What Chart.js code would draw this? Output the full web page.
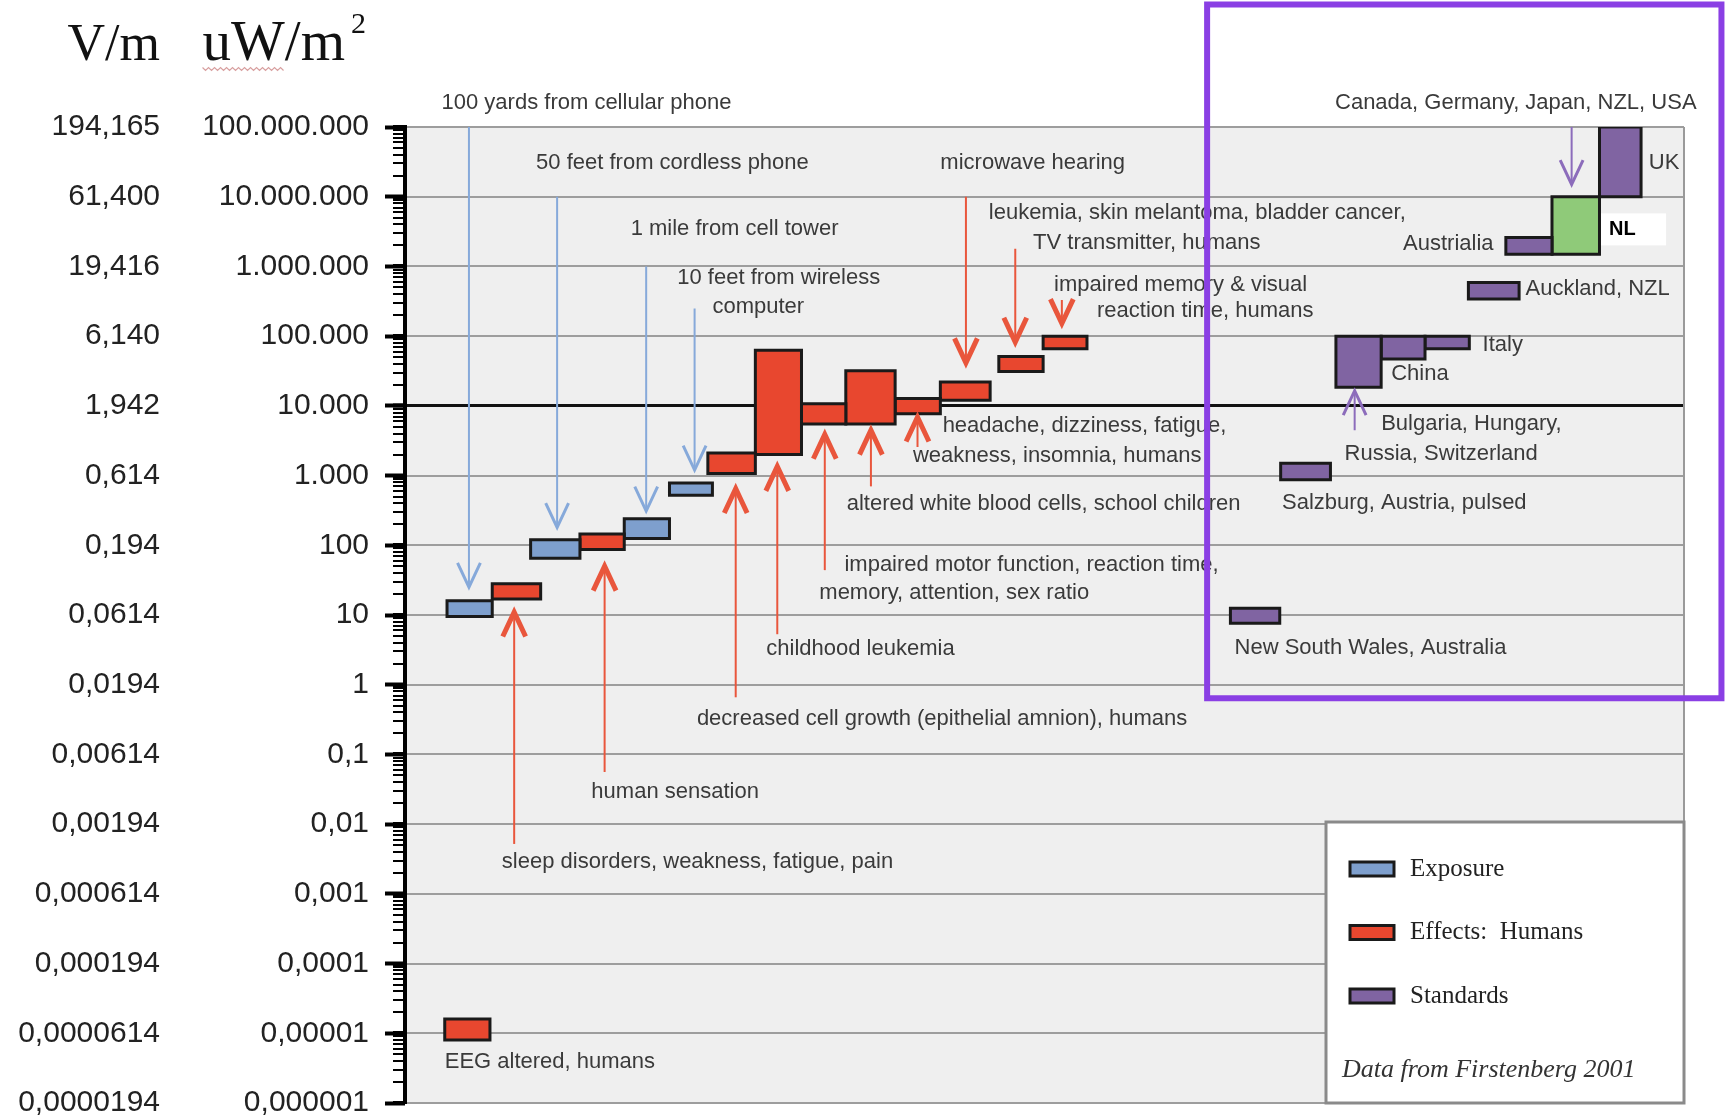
<!DOCTYPE html>
<html>
<head>
<meta charset="utf-8">
<title>RF exposure levels, effects and standards</title>
<script src="https://cdn.jsdelivr.net/npm/chart.js@4.4.1/dist/chart.umd.min.js"></script>
<style>
  html, body { margin: 0; padding: 0; background: #fff; }
  canvas { display: block; }
</style>
</head>
<body>
<canvas id="myChart" width="1729" height="1117"></canvas>
<script>
// axis tick values and the two label columns
const powerTicks = [1e-6, 1e-5, 1e-4, 1e-3, 1e-2, 1e-1, 1, 10, 100, 1e3, 1e4, 1e5, 1e6, 1e7, 1e8];
const powerLabels = ['0,000001', '0,00001', '0,0001', '0,001', '0,01', '0,1', '1', '10', '100',
  '1.000', '10.000', '100.000', '1.000.000', '10.000.000', '100.000.000'];
const fieldLabels = ['0,0000194', '0,0000614', '0,000194', '0,000614', '0,00194', '0,00614', '0,0194',
  '0,0614', '0,194', '0,614', '1,942', '6,140', '19,416', '61,400', '194,165'];

// boxes: x range in columns, y range in uW/m2
const boxName = ['EEG altered', '100 yards from cellular phone', 'sleep disorders', '50 feet from cordless phone',
  'human sensation', '1 mile from cell tower', '10 feet from wireless computer', 'decreased cell growth',
  'childhood leukemia', 'impaired motor function', 'altered white blood cells', 'headache, dizziness',
  'microwave hearing', 'leukemia, skin melantoma', 'impaired memory', 'New South Wales', 'Salzburg',
  'Bulgaria, Hungary, Russia, Switzerland', 'China', 'Italy', 'Auckland', 'Austrialia', 'NL', 'UK'];
const boxKind = ['effect', 'exposure', 'effect', 'exposure', 'effect', 'exposure', 'exposure', 'effect',
  'effect', 'effect', 'effect', 'effect', 'effect', 'effect', 'effect', 'standard', 'standard',
  'standard', 'standard', 'standard', 'standard', 'standard', 'nl', 'standard'];
const boxStart = [0.87, 0.92, 1.91, 2.75, 3.83, 4.80, 5.79, 6.63, 7.67, 8.68, 9.65, 10.73, 11.72, 13.0, 13.97,
  18.07, 19.17, 20.38, 21.37, 22.33, 23.28, 24.10, 25.11, 26.15];
const boxEnd = [1.86, 1.91, 2.97, 3.83, 4.80, 5.79, 6.73, 7.67, 8.68, 9.65, 10.73, 11.72, 12.81, 13.97, 14.93,
  19.15, 20.26, 21.37, 22.33, 23.30, 24.39, 25.11, 26.15, 27.06];
const boxLow = [0.000008, 9.5, 17, 65, 87, 125, 520, 1070, 2000, 5500, 5500, 7700, 12000, 31000, 66000,
  7.6, 870, 18500, 47000, 66000, 340000, 1.5e6, 1.5e6, 1e7];
const boxHigh = [0.000016, 16, 28, 120, 145, 240, 780, 2100, 63000, 10700, 32000, 12800, 22000, 51000, 100000,
  12.5, 1500, 100000, 100000, 100000, 590000, 2.6e6, 1e7, 1e8];

// arrows: column, tail value, tip value
const arrowX = [1.40, 3.33, 5.28, 6.34, 2.39, 4.37, 7.24, 8.15, 9.19, 10.20, 11.22, 12.28, 13.36, 14.38, 25.54, 20.79];
const arrowFrom = [1e8, 1e7, 1e6, 2.5e5, 0.0052, 0.056, 0.66, 5.3, 44, 700, 2570, 1e7, 1.8e6, 330000, 1e8, 4470];
const arrowTo = [25, 180, 310, 1200, 11, 50, 650, 1350, 3900, 4470, 6900, 41500, 82000, 152000, 1.5e7, 16500];
const arrowKind = ['exposure', 'exposure', 'exposure', 'exposure', 'effect', 'effect', 'effect', 'effect',
  'effect', 'effect', 'effect', 'effect', 'effect', 'effect', 'standard', 'standard'];

// annotations (left edge in columns, middle in uW/m2)
const noteText = ['100 yards from cellular phone', '50 feet from cordless phone', '1 mile from cell tower',
  '10 feet from wireless', 'computer', 'microwave hearing', 'leukemia, skin melantoma, bladder cancer,',
  'TV transmitter, humans', 'impaired memory & visual', 'reaction time, humans', 'headache, dizziness, fatigue,',
  'weakness, insomnia, humans', 'altered white blood cells, school children', 'impaired motor function, reaction time,',
  'memory, attention, sex ratio', 'childhood leukemia', 'decreased cell growth (epithelial amnion), humans',
  'human sensation', 'sleep disorders, weakness, fatigue, pain', 'EEG altered, humans',
  'Canada, Germany, Japan, NZL, USA', 'UK', 'NL', 'Austrialia', 'Auckland, NZL', 'Italy', 'China',
  'Bulgaria, Hungary,', 'Russia, Switzerland', 'Salzburg, Austria, pulsed', 'New South Wales, Australia'];
const noteX = [0.80, 2.87, 4.94, 5.96, 6.73, 11.72, 12.78, 13.75, 14.21, 15.15, 11.77, 11.12, 9.67, 9.62, 9.07,
  7.91, 6.39, 4.08, 2.12, 0.87, 20.36, 27.23, 26.36, 21.85, 24.53, 23.59, 21.59, 21.37, 20.57, 19.20, 18.16];
const noteY = [2.23e8, 3.1e7, 3.5e6, 6.8e5, 2.6e5, 3.1e7, 5.8e6, 2.18e6, 5.47e5, 2.28e5, 5160, 1930, 390, 52, 21,
  3.3, 0.32, 0.029, 0.0029, 3.85e-6, 2.23e8, 3.1e7, 3.4e6, 2.1e6, 4.7e5, 76000, 28600, 5550, 2075, 403, 3.4];

// highlighted region of the standards
const frameX = [17.56, 28.82];
const frameY = [0.64, 5.7e9];

const legendLabels = ['Exposure', 'Effects:  Humans', 'Standards'];
const legendKind = ['exposure', 'effect', 'standard'];
const sourceNote = 'Data from Firstenberg 2001';

const KIND_FILL = {exposure: '#7e9fcd', effect: '#e8472f', standard: '#8064a2', nl: '#8fca79'};
const KIND_ARROW = {exposure: '#86a9da', effect: '#e9563c', standard: '#8c6cbb'};
const HEAD_W = 0.25;   // columns
const HEAD_DEC = 0.35; // decades

function isDecade(v) {
  const l = Math.log10(v);
  return Math.abs(l - Math.round(l)) < 1e-9;
}
function decadeIndex(v) {
  return powerTicks.findIndex(p => Math.abs(Math.log10(p) - Math.log10(v)) < 1e-6);
}

// minor log ticks for the axis strip
const allTicks = [];
powerTicks.forEach((p, i) => {
  allTicks.push(p);
  if (i < powerTicks.length - 1) {
    for (let m = 2; m <= 9; m++) allTicks.push(Number((m * p).toPrecision(3)));
  }
});

const datasets = [];
boxLow.forEach((lo, i) => {
  const hi = boxHigh[i], x0 = boxStart[i], x1 = boxEnd[i];
  datasets.push({
    label: boxName[i],
    data: [{x: x0, y: hi}, {x: x1, y: hi}, {x: x1, y: lo}, {x: x0, y: lo}, {x: x0, y: hi}, {x: x1, y: hi}],
    backgroundColor: KIND_FILL[boxKind[i]],
    borderColor: '#1a1a1a',
    borderWidth: 3,
    borderJoinStyle: 'miter',
    fill: 'shape',
    pointRadius: 0,
    order: 2
  });
});

arrowX.forEach((x, i) => {
  const from = arrowFrom[i], to = arrowTo[i];
  const wing = to * Math.pow(10, from > to ? HEAD_DEC : -HEAD_DEC);
  const col = KIND_ARROW[arrowKind[i]];
  datasets.push({
    label: 'arrow ' + i,
    data: [{x: x, y: from}, {x: x, y: to}],
    borderColor: col, borderWidth: 2, pointRadius: 0, fill: false, order: 1
  });
  datasets.push({
    label: 'head ' + i,
    data: [{x: x - HEAD_W, y: wing}, {x: x, y: to}, {x: x + HEAD_W, y: wing}],
    borderColor: col, borderWidth: arrowKind[i] == 'effect' ? 5 : 3,
    borderJoinStyle: 'miter', pointRadius: 0, fill: false, order: 1
  });
});

datasets.push({
  label: 'standards',
  data: [{x: frameX[0], y: frameY[1]}, {x: frameX[1], y: frameY[1]}, {x: frameX[1], y: frameY[0]},
    {x: frameX[0], y: frameY[0]}, {x: frameX[0], y: frameY[1]}, {x: frameX[1], y: frameY[1]}],
  borderColor: '#8a3fe4', borderWidth: 6, borderJoinStyle: 'miter',
  pointRadius: 0, fill: false, clip: false, order: 0
});

const annotate = {
  id: 'annotate',
  beforeDraw(chart) {
    const {ctx, chartArea: a} = chart;
    ctx.save();
    ctx.fillStyle = '#efefef';
    ctx.fillRect(a.left, a.top, a.right - a.left, a.bottom - a.top);
    ctx.restore();
  },
  beforeDatasetsDraw(chart) {
    const {ctx, chartArea: a, scales: {x, y}} = chart;
    ctx.save();
    // right edge of the plot
    ctx.strokeStyle = '#9a9a9a';
    ctx.lineWidth = 2;
    ctx.beginPath();
    ctx.moveTo(a.right, a.top);
    ctx.lineTo(a.right, a.bottom);
    ctx.stroke();

    // notes
    ctx.textBaseline = 'middle';
    ctx.textAlign = 'left';
    noteText.forEach((t, i) => {
      const px = x.getPixelForValue(noteX[i]), py = y.getPixelForValue(noteY[i]);
      if (t === 'NL') {
        ctx.fillStyle = '#ffffff';
        ctx.fillRect(px - 11, py - 16, 68, 32);
        ctx.font = 'bold 20px "Liberation Sans", Arial, sans-serif';
        ctx.fillStyle = '#000';
      } else {
        ctx.font = '22px "Liberation Sans", Arial, sans-serif';
        ctx.fillStyle = '#3a3a3a';
      }
      ctx.fillText(t, px, py);
    });

    // legend box
    const lw = 358, lh = 281;
    const lx = a.right - lw, ly = a.bottom - lh;
    ctx.fillStyle = '#ffffff';
    ctx.fillRect(lx, ly, lw, lh);
    ctx.strokeStyle = '#8a8a8a';
    ctx.lineWidth = 3;
    ctx.strokeRect(lx, ly, lw, lh);
    legendLabels.forEach((t, i) => {
      const my = ly + 47 + i * 63.5;
      ctx.fillStyle = KIND_FILL[legendKind[i]];
      ctx.fillRect(lx + 24, my - 7, 44, 14);
      ctx.strokeStyle = '#1a1a1a';
      ctx.lineWidth = 3;
      ctx.strokeRect(lx + 24, my - 7, 44, 14);
      ctx.fillStyle = '#222';
      ctx.font = '25px "Liberation Serif", "Times New Roman", serif';
      ctx.fillText(t, lx + 84, my);
    });
    ctx.font = 'italic 26px "Liberation Serif", "Times New Roman", serif';
    ctx.fillStyle = '#333';
    ctx.fillText(sourceNote, lx + 16, ly + 248);
    ctx.restore();
  },
  afterDraw(chart) {
    const {ctx, scales: {y, yV}} = chart;
    const base = 60;
    ctx.save();
    ctx.fillStyle = '#111';
    ctx.textBaseline = 'alphabetic';
    ctx.textAlign = 'right';
    ctx.font = '52px "Liberation Serif", "Times New Roman", serif';
    ctx.fillText('V/m', yV.right - yV.options.grid.tickLength - yV.options.ticks.padding, base);
    const yRight = y.right - y.options.grid.tickLength - y.options.ticks.padding;
    ctx.font = '30px "Liberation Serif", "Times New Roman", serif';
    const supW = ctx.measureText('2').width;
    ctx.textAlign = 'left';
    ctx.fillText('2', yRight - supW - 3, base - 27);
    ctx.font = '57px "Liberation Serif", "Times New Roman", serif';
    const mainW = ctx.measureText('uW/m').width;
    const uwW = ctx.measureText('uW').width;
    const sx = yRight - supW - mainW - 9;
    ctx.fillText('uW/m', sx, base);
    // spell-check squiggle under uW
    ctx.strokeStyle = '#d8a0a0';
    ctx.lineWidth = 1.2;
    ctx.beginPath();
    for (let k = 0; k <= uwW; k += 3) {
      const yy = base + 9 + ((k / 3) % 2 ? 1.5 : -1.5);
      if (k === 0) ctx.moveTo(sx + k, yy); else ctx.lineTo(sx + k, yy);
    }
    ctx.stroke();
    ctx.restore();
  }
};

const config = {
  type: 'line',
  data: {datasets: datasets},
  options: {
    responsive: false,
    animation: false,
    events: [],
    layout: {padding: {left: 18, right: 45, top: 127, bottom: 14}},
    plugins: {legend: {display: false}, tooltip: {enabled: false}},
    scales: {
      x: {type: 'linear', min: 0, max: 28, display: false},
      // long marks at the decades, right against the plot
      yMajor: {
        type: 'logarithmic', position: 'left', min: 1e-6, max: 1e8, weight: -1,
        afterBuildTicks: axis => { axis.ticks = powerTicks.map(v => ({value: v})); },
        afterFit: scale => { scale.width = 0; scale.paddingTop = 0; scale.paddingBottom = 0; },
        ticks: {display: false},
        grid: {drawOnChartArea: false, tickLength: 20, tickColor: '#000', tickWidth: 4},
        border: {display: false}
      },
      y: {
        type: 'logarithmic', position: 'left', min: 1e-6, max: 1e8, weight: 0,
        afterBuildTicks: axis => { axis.ticks = allTicks.map(v => ({value: v})); },
        afterFit: scale => { scale.width = 203; scale.paddingTop = 0; scale.paddingBottom = 0; },
        ticks: {
          autoSkip: false, padding: 24, color: '#222',
          font: {family: '"Liberation Sans", Arial, sans-serif', size: 30},
          callback: v => { const i = decadeIndex(v); return i >= 0 ? powerLabels[i] : ''; }
        },
        grid: {
          color: c => !isDecade(c.tick.value) ? 'rgba(0,0,0,0)' : (decadeIndex(c.tick.value) === 10 ? '#111' : '#9d9d9d'),
          lineWidth: c => decadeIndex(c.tick.value) === 10 ? 3 : 2,
          tickColor: '#000',
          tickLength: 12,
          tickWidth: c => isDecade(c.tick.value) ? 4 : 2
        },
        border: {display: true, color: '#000', width: 4}
      },
      yV: {
        type: 'logarithmic', position: 'left', min: 1e-6, max: 1e8, weight: 1,
        afterBuildTicks: axis => { axis.ticks = powerTicks.map(v => ({value: v})); },
        afterFit: scale => { scale.width = 184; scale.paddingTop = 0; scale.paddingBottom = 0; },
        ticks: {
          autoSkip: false, padding: 2, color: '#222',
          font: {family: '"Liberation Sans", Arial, sans-serif', size: 30},
          callback: (v, i) => fieldLabels[i]
        },
        grid: {display: false, drawTicks: true, tickLength: 40},
        border: {display: false}
      }
    }
  },
  plugins: [annotate]
};

const myChart = new Chart(document.getElementById('myChart'), config);
</script>
</body>
</html>
